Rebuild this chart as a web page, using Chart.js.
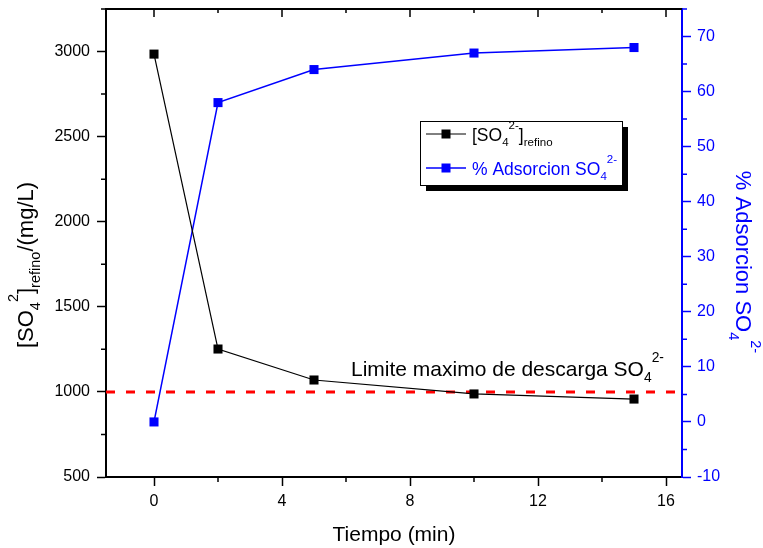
<!DOCTYPE html>
<html><head><meta charset="utf-8">
<script src="https://cdn.jsdelivr.net/npm/chart.js@4.4.1/dist/chart.umd.min.js"></script>
<style>html,body{margin:0;padding:0;background:#fff}</style>
</head><body>
<canvas id="c" width="763" height="548"></canvas>
<script>
// ---- data ----
const tiempo = [0, 2, 5, 10, 15];
const sulfatoRefino = [2985, 1252, 1070, 988, 958];
const adsorcion = [0, 58, 64, 67, 68];
const limiteDescarga = 1000;
const limiteX = [-1.5, 16.5];
const xMajorTicks = [0, 4, 8, 12, 16];
const xMinorTicks = [2, 6, 10, 14];
const yMajorTicks = [500, 1000, 1500, 2000, 2500, 3000];
const yMinorTicks = [750, 1250, 1750, 2250, 2750, 3250];
const y2MajorTicks = [-10, 0, 10, 20, 30, 40, 50, 60, 70];
const y2MinorTicks = [-5, 5, 15, 25, 35, 45, 55, 65, 75];

const FONT = "'Liberation Sans', Arial, Helvetica, sans-serif";
const BLUE = '#0000ff';
const SR = 0.66;

function richWidth(ctx, parts, size) {
  let w = 0;
  for (const p of parts) {
    const s = p.m === 'n' ? size : size * SR;
    ctx.font = s + 'px ' + FONT;
    w += ctx.measureText(p.t).width;
  }
  return w;
}
function drawRich(ctx, x, y, parts, size, color) {
  ctx.fillStyle = color;
  ctx.textBaseline = 'alphabetic';
  ctx.textAlign = 'left';
  let cx = x;
  for (const p of parts) {
    const s = p.m === 'n' ? size : size * SR;
    ctx.font = s + 'px ' + FONT;
    let dy = 0;
    if (p.m === 'sub') dy = size * 0.3;
    if (p.m === 'sup') dy = -size * 0.68;
    ctx.fillText(p.t, cx, y + dy);
    cx += ctx.measureText(p.t).width;
  }
}

const leftTitle = [{t:'[SO',m:'n'},{t:'4',m:'sub'},{t:'2',m:'sup'},{t:']',m:'n'},{t:'refino',m:'sub'},{t:'/(mg/L)',m:'n'}];
const rightTitle = [{t:'% Adsorcion SO',m:'n'},{t:'4',m:'sub'},{t:'2-',m:'sup'}];
const leg1 = [{t:'[SO',m:'n'},{t:'4',m:'sub'},{t:'2-',m:'sup'},{t:']',m:'n'},{t:'refino',m:'sub'}];
const leg2 = [{t:'% Adsorcion SO',m:'n'},{t:'4',m:'sub'},{t:'2-',m:'sup'}];
const annot = [{t:'Limite maximo de descarga SO',m:'n'},{t:'4',m:'sub'},{t:'2-',m:'sup'}];

const extras = {
  id: 'extras',
  afterDraw(chart) {
    const ctx = chart.ctx;
    const ca = chart.chartArea;
    const sx = chart.scales.x, sy = chart.scales.y, sy2 = chart.scales.y2;
    ctx.save();
    // top frame line
    ctx.strokeStyle = '#000';
    ctx.lineWidth = 2;
    ctx.beginPath();
    ctx.moveTo(ca.left - 1, ca.top);
    ctx.lineTo(ca.right, ca.top);
    ctx.stroke();
    ctx.lineWidth = 1.5;
    ctx.beginPath();
    for (const v of xMajorTicks) { const px = sx.getPixelForValue(v); ctx.moveTo(px, ca.top); ctx.lineTo(px, ca.top + 8); }
    for (const v of xMinorTicks) { const px = sx.getPixelForValue(v); ctx.moveTo(px, ca.top); ctx.lineTo(px, ca.top + 4); }
    for (const v of xMinorTicks) { const px = sx.getPixelForValue(v); ctx.moveTo(px, ca.bottom); ctx.lineTo(px, ca.bottom + 5); }
    for (const v of yMinorTicks) { const py = sy.getPixelForValue(v); ctx.moveTo(ca.left, py); ctx.lineTo(ca.left - 5, py); }
    ctx.stroke();
    ctx.strokeStyle = BLUE;
    ctx.beginPath();
    for (const v of y2MinorTicks) { const py = sy2.getPixelForValue(v); ctx.moveTo(ca.right, py); ctx.lineTo(ca.right + 5, py); }
    ctx.stroke();

    // axis titles
    ctx.font = '21px ' + FONT;
    ctx.fillStyle = '#000';
    ctx.textAlign = 'center';
    ctx.textBaseline = 'alphabetic';
    ctx.fillText('Tiempo (min)', (ca.left + ca.right) / 2, 541);

    const ts = 22;
    const lw = richWidth(ctx, leftTitle, ts);
    ctx.save();
    ctx.translate(33, 265);
    ctx.rotate(-Math.PI / 2);
    drawRich(ctx, -lw / 2, 0, leftTitle, ts, '#000');
    ctx.restore();

    const rw = richWidth(ctx, rightTitle, ts);
    ctx.save();
    ctx.translate(736, 262);
    ctx.rotate(Math.PI / 2);
    drawRich(ctx, -rw / 2, 0, rightTitle, ts, BLUE);
    ctx.restore();

    // annotation over the limit line
    const ly = sy.getPixelForValue(limiteDescarga);
    drawRich(ctx, 351, ly - 16, annot, 21, '#000');

    // legend
    const bx = 420, by = 121, bw = 202, bh = 64, sh = 6;
    ctx.fillStyle = '#000';
    ctx.fillRect(bx + sh, by + sh, bw, bh);
    ctx.fillStyle = '#fff';
    ctx.fillRect(bx, by, bw, bh);
    ctx.strokeStyle = '#000';
    ctx.lineWidth = 1;
    ctx.strokeRect(bx + 0.5, by + 0.5, bw, bh);
    const rows = [{y: 134, c: '#000', parts: leg1, lw: 1}, {y: 168, c: BLUE, parts: leg2, lw: 1.5}];
    for (const r of rows) {
      ctx.strokeStyle = r.c;
      ctx.lineWidth = r.lw;
      ctx.beginPath();
      ctx.moveTo(426, r.y); ctx.lineTo(466, r.y);
      ctx.stroke();
      ctx.fillStyle = r.c;
      ctx.fillRect(446 - 4.5, r.y - 4.5, 9, 9);
      drawRich(ctx, 472, r.y + 7, r.parts, 17.5, r.c);
    }
    ctx.restore();
  }
};

const pts = (xs, ys) => xs.map((x, i) => ({x: x, y: ys[i]}));

new Chart(document.getElementById('c'), {
  type: 'line',
  data: {
    datasets: [
      {label: 'sulfato', data: pts(tiempo, sulfatoRefino), yAxisID: 'y', borderColor: '#000', backgroundColor: '#000',
       borderWidth: 1.2, pointStyle: 'rect', pointRadius: 6.4, pointBorderWidth: 0, tension: 0, order: 1},
      {label: 'adsorcion', data: pts(tiempo, adsorcion), yAxisID: 'y2', borderColor: BLUE, backgroundColor: BLUE,
       borderWidth: 1.5, pointStyle: 'rect', pointRadius: 6.4, pointBorderWidth: 0, tension: 0, order: 2},
      {label: 'limite', data: limiteX.map(x => ({x: x, y: limiteDescarga})), yAxisID: 'y', borderColor: '#ff0000',
       borderWidth: 3, borderDash: [9, 11], pointRadius: 0, tension: 0, order: 3}
    ]
  },
  options: {
    responsive: false, animation: false, devicePixelRatio: 1,
    layout: {padding: {top: 9, left: 0, right: 0, bottom: 0}},
    plugins: {legend: {display: false}, tooltip: {enabled: false}},
    scales: {
      x: {
        type: 'linear', position: 'bottom', min: limiteX[0], max: limiteX[1],
        afterBuildTicks: s => { s.ticks = xMajorTicks.map(v => ({value: v})); },
        afterFit: s => { s.height = 71; s.paddingLeft = 0; s.paddingRight = 0; },
        ticks: {font: {family: FONT, size: 16}, color: '#000', padding: 6, maxRotation: 0, autoSkip: false, callback: v => String(v)},
        grid: {display: true, drawOnChartArea: false, drawTicks: true, tickLength: 9, tickWidth: 1.5, tickColor: '#000'},
        border: {display: true, color: '#000', width: 2}
      },
      y: {
        type: 'linear', position: 'left', min: 500, max: 3250,
        afterBuildTicks: s => { s.ticks = yMajorTicks.map(v => ({value: v})); },
        afterFit: s => { s.width = 106; s.paddingTop = 0; s.paddingBottom = 0; },
        ticks: {font: {family: FONT, size: 16}, color: '#000', padding: 7, autoSkip: false, callback: v => String(v)},
        grid: {display: true, drawOnChartArea: false, drawTicks: true, tickLength: 9, tickWidth: 1.5, tickColor: '#000'},
        border: {display: true, color: '#000', width: 2}
      },
      y2: {
        type: 'linear', position: 'right', min: -10, max: 75,
        afterBuildTicks: s => { s.ticks = y2MajorTicks.map(v => ({value: v})); },
        afterFit: s => { s.width = 81; s.paddingTop = 0; s.paddingBottom = 0; },
        ticks: {font: {family: FONT, size: 16}, color: BLUE, padding: 6, autoSkip: false, callback: v => String(v)},
        grid: {display: true, drawOnChartArea: false, drawTicks: true, tickLength: 9, tickWidth: 1.5, tickColor: BLUE},
        border: {display: true, color: BLUE, width: 2}
      }
    }
  },
  plugins: [extras]
});
</script>
</body></html>
